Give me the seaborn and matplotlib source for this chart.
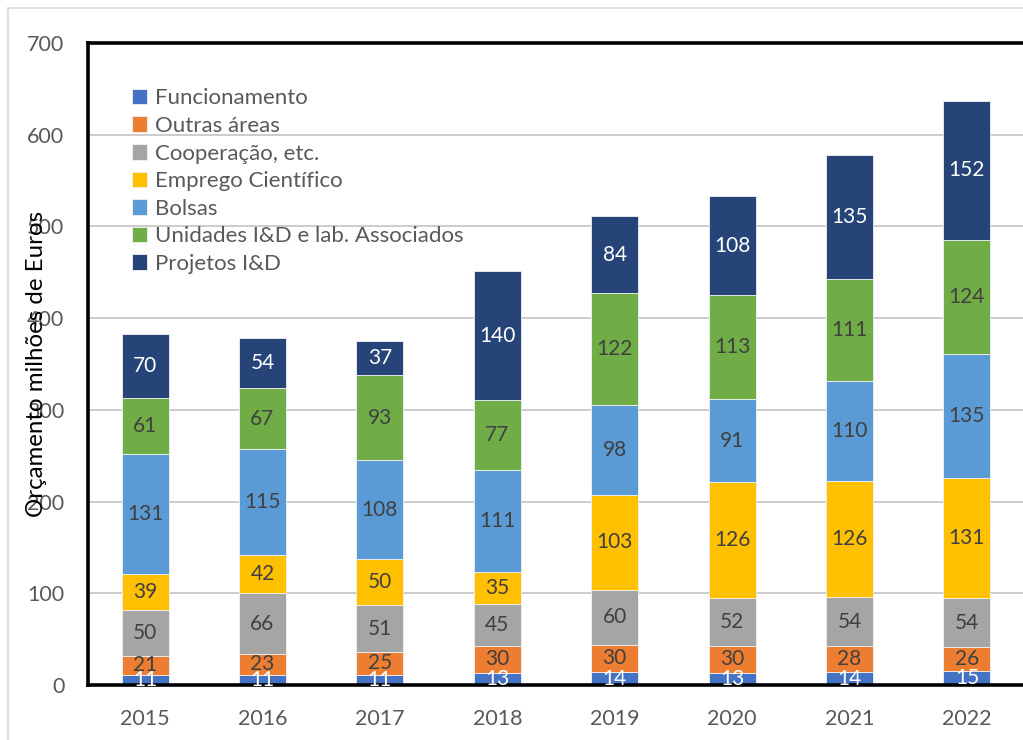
import matplotlib
matplotlib.use("Agg")
import matplotlib.pyplot as plt
import matplotlib.patches as mpatches
import seaborn as sns
import numpy as np

# Dados (milhões de euros)
anos = ["2015", "2016", "2017", "2018", "2019", "2020", "2021", "2022"]
funcionamento = [11, 11, 11, 13, 14, 13, 14, 15]
outras_areas = [21, 23, 25, 30, 30, 30, 28, 26]
cooperacao = [50, 66, 51, 45, 60, 52, 54, 54]
emprego_cientifico = [39, 42, 50, 35, 103, 126, 126, 131]
bolsas = [131, 115, 108, 111, 98, 91, 110, 135]
unidades = [61, 67, 93, 77, 122, 113, 111, 124]
projetos = [70, 54, 37, 140, 84, 108, 135, 152]

series = [
    ("Funcionamento", funcionamento, "#4472C4", "white"),
    ("Outras áreas", outras_areas, "#ED7D31", "#404040"),
    ("Cooperação, etc.", cooperacao, "#A5A5A5", "#404040"),
    ("Emprego Científico", emprego_cientifico, "#FFC000", "#404040"),
    ("Bolsas", bolsas, "#5B9BD5", "#404040"),
    ("Unidades I&D e lab. Associados", unidades, "#70AD47", "#404040"),
    ("Projetos I&D", projetos, "#264478", "white"),
]

sns.set_style("white")
plt.rcParams["font.family"] = ["Lato", "DejaVu Sans"]

fig = plt.figure(figsize=(10.23, 7.40), dpi=100)
ax = fig.add_axes([88 / 1023, 1 - 685 / 740, 936 / 1023, 642 / 740])

base = np.zeros(len(anos))
for nome, vals, cor, cor_txt in series:
    sns.barplot(x=anos, y=vals, bottom=base, color=cor, saturation=1,
                width=0.4, edgecolor="#F2F2F2", linewidth=0.6, label=nome,
                ax=ax, zorder=2)
    cont = ax.containers[-1]
    ax.bar_label(cont, labels=[str(v) for v in vals], label_type="center",
                 color=cor_txt, fontsize=15)
    base = base + np.array(vals)

ax.set_ylim(0, 700)
ax.set_yticks(range(0, 701, 100))
ax.set_xlim(-0.486, 7.486)
ax.yaxis.grid(True, color="#C8C8C8", linewidth=1.3, zorder=0)
ax.set_axisbelow(True)
ax.tick_params(axis="both", length=0, labelsize=15.5, labelcolor="#595959")
ax.tick_params(axis="x", pad=17)
ax.tick_params(axis="y", pad=17)

for lado in ["left", "top", "bottom"]:
    ax.spines[lado].set_visible(True)
    ax.spines[lado].set_color("black")
    ax.spines[lado].set_linewidth(2.6)
ax.spines["right"].set_visible(False)

ax.set_xlabel("")
ax.set_ylabel("Orçamento milhões de Euros", fontsize=17.3, color="black")
ax.yaxis.set_label_coords(-0.044, 0.5)

ax.legend(loc="upper left", bbox_to_anchor=(0.037, 0.943), frameon=False,
          fontsize=16, handlelength=0.7, handleheight=0.7,
          handletextpad=0.35, labelspacing=0.34, labelcolor="#595959",
          borderaxespad=0)

# moldura exterior cinzenta
fig.patches.append(mpatches.Rectangle((8 / 1023, -0.05), 1.1, 1 - 8 / 740 + 0.05,
                                      transform=fig.transFigure, fill=False,
                                      edgecolor="#D9D9D9", linewidth=1.2))

fig.savefig("out.png", dpi=100)
